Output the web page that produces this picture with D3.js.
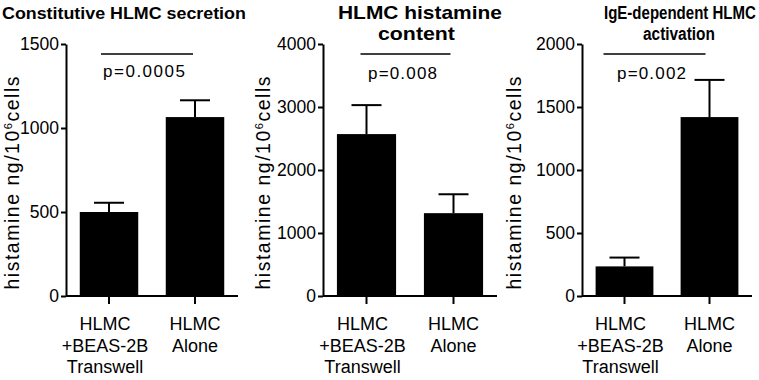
<!DOCTYPE html>
<html>
<head>
<meta charset="utf-8">
<script src="https://cdn.jsdelivr.net/npm/d3@7"></script>
<style>
  body { margin: 0; background: #fff; }
  svg text { font-family: "Liberation Sans", Arial, sans-serif; fill: #000; }
  .axis path, .axis line { stroke: #000; stroke-width: 2; }
  .axis text { font-size: 17.5px; }
</style>
</head>
<body>
<svg id="chart" width="759" height="380"></svg>
<script>
// data
const GROUPS = ["HLMC +BEAS-2B Transwell", "HLMC Alone"];
const GROUP_LINES = [["HLMC", "+BEAS-2B", "Transwell"], ["HLMC", "Alone"]];

const SECRETION_MEAN = [500, 1065];
const SECRETION_SEM = [55, 100];
const CONTENT_MEAN = [2570, 1315];
const CONTENT_SEM = [460, 300];
const ACTIVATION_MEAN = [235, 1420];
const ACTIVATION_SEM = [70, 295];

const TITLES = [["Constitutive HLMC secretion"], ["HLMC histamine", "content"], ["IgE-dependent HLMC", "activation"]];
const Y_TICKS = [[0, 500, 1000, 1500], [0, 1000, 2000, 3000, 4000], [0, 500, 1000, 1500, 2000]];
const P_LABELS = ["p=0.0005", "p=0.008", "p=0.002"];

// layout only (pixel placement per panel)
const LAYOUT = [
  { x0: 66, x1: 238, labelX: 19, titleX: [2], titleW: [244], titleSize: 17, sig: [-8, -2], pW: 82 },
  { x0: 323, x1: 497, labelX: 270, titleX: [338, 378], titleW: [164, 77], titleSize: 18, sig: [-6, -3], pW: 69 },
  { x0: 582, x1: 752, labelX: 521, titleX: [604, 643], titleW: [152, 72], titleSize: 18.5, sig: [-21, -4], pW: 69 },
];

const panels = [
  { mean: SECRETION_MEAN, sem: SECRETION_SEM },
  { mean: CONTENT_MEAN, sem: CONTENT_SEM },
  { mean: ACTIVATION_MEAN, sem: ACTIVATION_SEM },
];

const svg = d3.select("#chart");
const yTop = 44, yBottom = 296;

panels.forEach((p, i) => {
  const L = LAYOUT[i];
  const g = svg.append("g");
  const ticks = Y_TICKS[i];
  const y = d3.scaleLinear().domain([0, d3.max(ticks)]).range([yBottom, yTop]);
  const x = d3.scaleBand().domain(GROUPS).range([L.x0, L.x1]).paddingInner(0.32).paddingOuter(0.16);
  const rows = GROUPS.map((k, j) => ({ key: k, mean: p.mean[j], sem: p.sem[j] }));

  // bars
  g.selectAll("rect.bar")
    .data(rows)
    .join("rect")
    .attr("class", "bar")
    .attr("x", d => x(d.key))
    .attr("width", x.bandwidth())
    .attr("y", d => y(d.mean))
    .attr("height", d => y(0) - y(d.mean))
    .attr("fill", "#000");

  // error bars (upper only)
  const cx = d => x(d.key) + x.bandwidth() / 2;
  g.selectAll("line.err")
    .data(rows)
    .join("line")
    .attr("class", "err")
    .attr("x1", cx).attr("x2", cx)
    .attr("y1", d => y(d.mean)).attr("y2", d => y(d.mean + d.sem))
    .attr("stroke", "#000").attr("stroke-width", 2);
  g.selectAll("line.cap")
    .data(rows)
    .join("line")
    .attr("class", "cap")
    .attr("x1", d => cx(d) - 15).attr("x2", d => cx(d) + 15)
    .attr("y1", d => y(d.mean + d.sem)).attr("y2", d => y(d.mean + d.sem))
    .attr("stroke", "#000").attr("stroke-width", 2);

  // axes
  g.append("g")
    .attr("class", "axis")
    .attr("transform", `translate(${L.x0},0)`)
    .call(d3.axisLeft(y).tickValues(ticks).tickSize(5).tickSizeOuter(0).tickPadding(2).tickFormat(d3.format("d")));

  const xa = g.append("g")
    .attr("class", "axis")
    .attr("transform", `translate(0,${yBottom})`)
    .call(d3.axisBottom(x).tickSize(8).tickSizeOuter(0).tickFormat(""));
  xa.select(".domain").attr("d", `M${L.x0},0H${L.x1}`);

  // category labels, several lines
  GROUPS.forEach((k, j) => {
    g.append("text")
      .attr("text-anchor", "middle")
      .attr("font-size", 18)
      .selectAll("tspan")
      .data(GROUP_LINES[j])
      .join("tspan")
      .attr("x", x(k) + x.bandwidth() / 2 - (j === 0 ? 4 : 0))
      .attr("y", (d, n) => 330 + n * 21.5)
      .text(d => d);
  });

  // y label
  const yl = g.append("text")
    .attr("transform", `translate(${L.labelX},183) rotate(-90)`)
    .attr("text-anchor", "middle")
    .attr("font-size", 19.5)
    .attr("textLength", 213)
    .attr("lengthAdjust", "spacing");
  yl.append("tspan").text("histamine ng/10");
  yl.append("tspan").attr("font-size", 11).attr("dy", -7).text("6");
  yl.append("tspan").attr("dy", 7).text("cells");

  // title, squeezed or stretched horizontally to the width in the figure
  TITLES[i].forEach((t, n) => {
    const tt = g.append("text")
      .attr("font-size", L.titleSize)
      .attr("font-weight", "bold")
      .text(t);
    const natural = tt.node().getComputedTextLength();
    tt.attr("transform", `translate(${L.titleX[n]},${19 + n * 21}) scale(${L.titleW[n] / natural},1)`);
  });

  // significance bracket
  const c0 = x(GROUPS[0]) + x.bandwidth() / 2 + L.sig[0];
  const c1 = x(GROUPS[1]) + x.bandwidth() / 2 + L.sig[1];
  g.append("line")
    .attr("x1", c0).attr("x2", c1)
    .attr("y1", 54).attr("y2", 54)
    .attr("stroke", "#000").attr("stroke-width", 1.5);
  g.append("text")
    .attr("x", (c0 + c1) / 2 - 3)
    .attr("y", i === 0 ? 77 : 79)
    .attr("text-anchor", "middle")
    .attr("font-size", 17)
    .attr("textLength", L.pW)
    .attr("lengthAdjust", "spacing")
    .text(P_LABELS[i]);
});
</script>
</body>
</html>
